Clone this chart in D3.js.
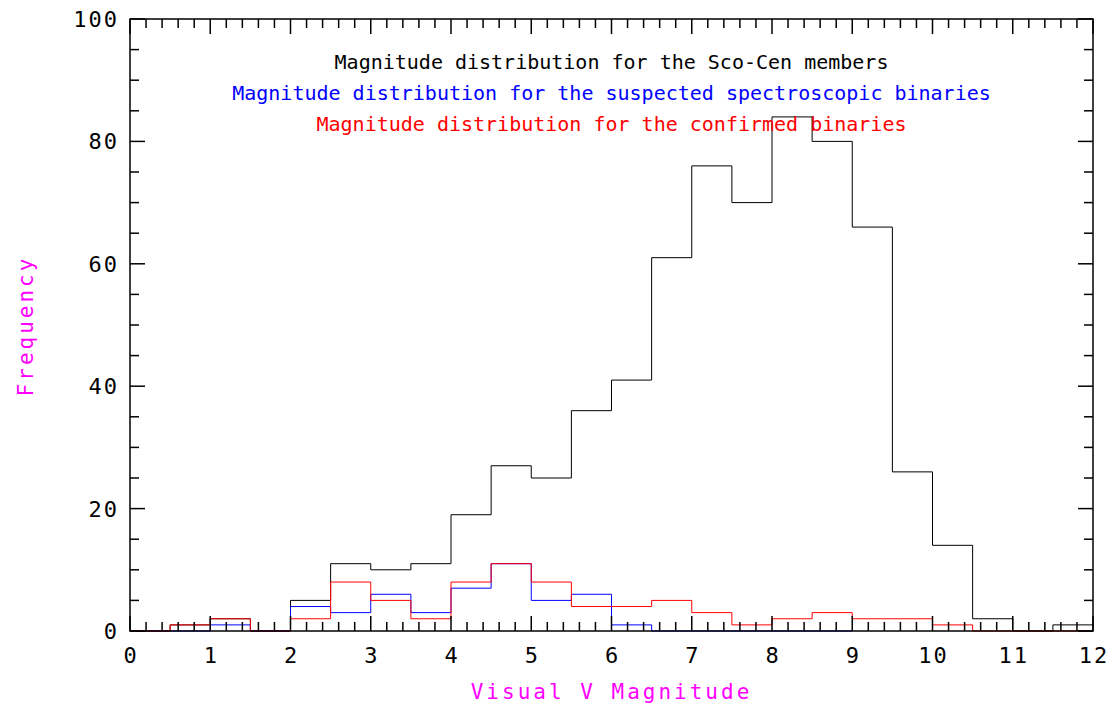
<!DOCTYPE html>
<html lang="en">
<head>
  <meta charset="UTF-8">
  <title>Magnitude distribution</title>
  <script src="https://cdn.jsdelivr.net/npm/d3@7"></script>
  <style>
    body { margin: 0; background: #fff; }
    text { font-family: 'DejaVu Sans Mono', monospace; }
  </style>
</head>
<body>
<div id="grafica"></div>
<script>
// bin lower edges (width 0.5)
binStart = [0, 0.5, 1, 1.5, 2, 2.5, 3, 3.5, 4, 4.5, 5, 5.5, 6, 6.5, 7, 7.5, 8, 8.5, 9, 9.5, 10, 10.5, 11, 11.5]
binWidth = 0.5

members    = [0, 1, 2, 0, 5, 11, 10, 11, 19, 27, 25, 36, 41, 61, 76, 70, 84, 80, 66, 26, 14, 2, 0, 1]
suspected  = [0, 0, 1, 0, 4, 3, 6, 3, 7, 11, 5, 6, 1, 0, 0, 0, 0, 0]
confirmed  = [0, 1, 2, 0, 2, 8, 5, 2, 8, 11, 8, 4, 4, 5, 3, 1, 2, 3, 2, 2, 1, 0, 0, 0]

titles = [
  'Magnitude distribution for the Sco-Cen members',
  'Magnitude distribution for the suspected spectroscopic binaries',
  'Magnitude distribution for the confirmed binaries'
]
colores = ['#000000', '#0000ff', '#ff0000']

xTicks = [0, 1, 2, 3, 4, 5, 6, 7, 8, 9, 10, 11, 12]
yTicks = [0, 20, 40, 60, 80, 100]

ancho_total = 1113
alto_total  = 708
margin = { left: 130, right: 20, top: 19, bottom: 77 }
ancho = ancho_total - margin.left - margin.right
alto  = alto_total - margin.top - margin.bottom

svg = d3.select('#grafica')
  .append('svg')
  .attr('width', ancho_total)
  .attr('height', alto_total)

g = svg.append('g')
  .attr('transform', `translate(${margin.left},${margin.top})`)

x = d3.scaleLinear().domain([0, 12]).range([0, ancho])
y = d3.scaleLinear().domain([0, 100]).range([alto, 0])

// histogram outlines
linea = d3.line()
  .x(d => x(d[0]))
  .y(d => y(d[1]))
  .curve(d3.curveStepAfter)

function pasos(vals) {
  pts = vals.map((v, i) => [binStart[i], v])
  pts.push([binStart[vals.length - 1] + binWidth, vals[vals.length - 1]])
  return pts
}

;[members, suspected, confirmed].forEach((serie, i) => {
  g.append('path')
    .attr('fill', 'none')
    .attr('stroke', colores[i])
    .attr('stroke-width', 1)
    .attr('d', linea(pasos(serie)))
})

// frame
g.append('rect')
  .attr('width', ancho)
  .attr('height', alto)
  .attr('fill', 'none')
  .attr('stroke', '#000')
  .attr('stroke-width', 1.5)

// ticks (inward, all four sides)
minorX = d3.range(0, 12.001, 0.2)
minorY = d3.range(0, 100.001, 5)

minorX.forEach(v => {
  major = Math.abs(v - Math.round(v)) < 1e-6
  len = major ? 15 : 9
  g.append('line').attr('x1', x(v)).attr('x2', x(v)).attr('y1', alto).attr('y2', alto - len)
    .attr('stroke', '#000').attr('stroke-width', 1.5)
  g.append('line').attr('x1', x(v)).attr('x2', x(v)).attr('y1', 0).attr('y2', len)
    .attr('stroke', '#000').attr('stroke-width', 1.5)
})
minorY.forEach(v => {
  len = v % 20 === 0 ? 15 : 9
  g.append('line').attr('x1', 0).attr('x2', len).attr('y1', y(v)).attr('y2', y(v))
    .attr('stroke', '#000').attr('stroke-width', 1.5)
  g.append('line').attr('x1', ancho).attr('x2', ancho - len).attr('y1', y(v)).attr('y2', y(v))
    .attr('stroke', '#000').attr('stroke-width', 1.5)
})

// tick labels
g.selectAll('.xl').data(xTicks).enter().append('text')
  .attr('x', d => x(d) + 1)
  .attr('y', alto + 32)
  .attr('text-anchor', 'middle')
  .style('font-size', '22px')
  .style('letter-spacing', '2px')
  .text(d => d)

g.selectAll('.yl').data(yTicks).enter().append('text')
  .attr('x', -11)
  .attr('y', d => y(d) + 8)
  .attr('text-anchor', 'end')
  .style('font-size', '22px')
  .style('letter-spacing', '2px')
  .text(d => d)

// axis titles
svg.append('text')
  .attr('x', margin.left + ancho / 2)
  .attr('y', 699)
  .attr('text-anchor', 'middle')
  .attr('fill', '#ff00ff')
  .style('font-size', '21px')
  .style('letter-spacing', '3px')
  .text('Visual V Magnitude')

svg.append('text')
  .attr('transform', 'translate(33, 326) rotate(-90)')
  .attr('text-anchor', 'middle')
  .attr('fill', '#ff00ff')
  .style('font-size', '21px')
  .style('letter-spacing', '3px')
  .text('Frequency')

// legend lines
titles.forEach((t, i) => {
  g.append('text')
    .attr('x', ancho / 2)
    .attr('y', 50 + i * 31)
    .attr('text-anchor', 'middle')
    .attr('fill', colores[i])
    .style('font-size', '20px')
    .text(t)
})
</script>
</body>
</html>
